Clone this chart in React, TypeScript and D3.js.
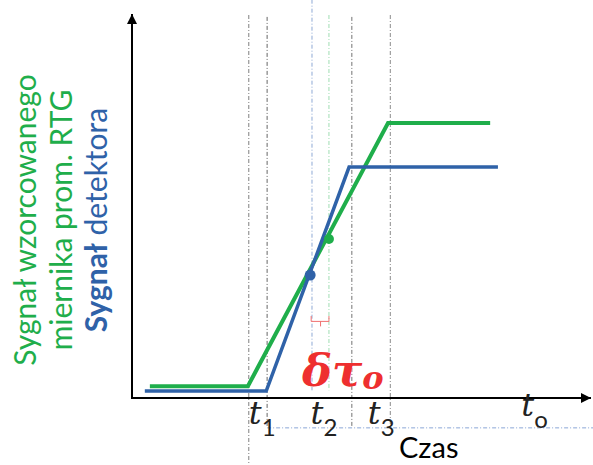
import React from 'react';
import * as d3 from 'd3';

// time in arbitrary units (0..100), signal level (0..100)
const greenT = [3.9, 25.3, 55.9, 78.2];
const greenV = [3.1, 3.1, 71.8, 71.8];
const blueT = [2.8, 29.3, 47.4, 79.9];
const blueV = [1.8, 1.8, 60.3, 60.3];

const blueDot = { t: 38.9, v: 32.1 };
const greenDot = { t: 43.0, v: 41.5 };

// vertical guide lines: time, top level, bottom level, colour
const guideT = [25.5, 29.5, 39.3, 43.0, 48.0, 56.4];
const guideTop = [100, 99.5, 104, 100, 99.5, 100];
const guideBottom = [-17.5, -7.8, 2, 2, -7.8, -7.8];
const guideColor = ['#555', '#333', '#6a8fc8', '#7fd39a', '#444', '#666'];

const tickLabels = [
  { t: 25.5, sub: '1' },
  { t: 39.0, sub: '2' },
  { t: 51.5, sub: '3' },
  { t: 85.0, sub: 'o' },
];

const GREEN = '#1fae4b';
const BLUE = '#2f62a8';
const RED = '#ee2f2f';

export default function App() {
  const width = 593;
  const height = 465;
  const x = d3.scaleLinear().domain([0, 100]).range([132, 590]);
  const y = d3.scaleLinear().domain([0, 100]).range([398, 15]);

  const path = (ts: number[], vs: number[]) =>
    d3.line<number>().x((d) => x(d)).y((_, i) => y(vs[i]))(ts) || '';

  const mathFont = "'DejaVu Serif', serif";

  return (
    <svg width={width} height={height} style={{ position: 'absolute', left: 0, top: 0 }}>
      <defs>
        <marker id="arr" viewBox="0 0 10 10" refX="10" refY="5" markerWidth="5" markerHeight="5" orient="auto">
          <path d="M0,0 L10,5 L0,10 z" fill="#000" />
        </marker>
      </defs>

      {/* guide lines */}
      {guideT.map((t, i) => (
        <line
          key={i}
          x1={x(t)}
          x2={x(t)}
          y1={y(guideTop[i])}
          y2={y(guideBottom[i])}
          stroke={guideColor[i]}
          strokeWidth={1}
          strokeDasharray="4,2,1,2"
          opacity={0.75}
        />
      ))}
      <line
        x1={x(29.5)}
        x2={width}
        y1={y(-7.8)}
        y2={y(-7.8)}
        stroke="#8aa6d6"
        strokeWidth={1}
        strokeDasharray="4,2,1,2"
      />

      {/* axes */}
      <line x1={x(0)} x2={x(0)} y1={y(0)} y2={y(100) - 1} stroke="#000" strokeWidth={2} markerEnd="url(#arr)" />
      <line x1={x(0) - 1} x2={x(100) + 1} y1={y(0)} y2={y(0)} stroke="#000" strokeWidth={2} markerEnd="url(#arr)" />

      {/* signals */}
      <path d={path(greenT, greenV)} fill="none" stroke={GREEN} strokeWidth={4} />
      <path d={path(blueT, blueV)} fill="none" stroke={BLUE} strokeWidth={3.5} />
      <circle cx={x(greenDot.t)} cy={y(greenDot.v)} r={5} fill={GREEN} />
      <circle cx={x(blueDot.t)} cy={y(blueDot.v)} r={5.5} fill={BLUE} />

      {/* delta bracket */}
      <path
        d={`M${x(blueDot.t) + 1},${y(21.4)} V${y(20)} H${x(greenDot.t)} V${y(21.4)} M${(x(blueDot.t) + x(greenDot.t)) / 2 + 1},${y(20)} v5`}
        fill="none"
        stroke="#f07070"
        strokeWidth={1}
      />
      <text x={302} y={386} fill={RED} fontFamily={mathFont} fontStyle="italic" fontWeight="bold" fontSize={45}>
        δτ
        <tspan fontSize={32} dy={3}>o</tspan>
      </text>

      {/* time labels */}
      {tickLabels.map((d, i) => (
        <text
          key={i}
          x={x(d.t)}
          y={i === 3 ? 416 : 424}
          fontFamily={mathFont}
          fontStyle="italic"
          fontSize={32}
          fill="#222"
        >
          t
          <tspan fontStyle="normal" fontFamily="Lato, sans-serif" fontSize={24} dy={12}>
            {d.sub}
          </tspan>
        </text>
      ))}
      <text x={399} y={458} fontFamily="Lato, sans-serif" fontSize={29} fill="#000">
        Czas
      </text>

      {/* y label */}
      <g transform="translate(0,220) rotate(-90)" fontFamily="Lato, sans-serif" fontSize={30} textAnchor="middle">
        <text x={0} y={36} fill={GREEN}>Sygnał wzorcowanego</text>
        <text x={0} y={72} fill={GREEN}>miernika prom. RTG</text>
        <text x={0} y={107} fill={BLUE}>
          <tspan fontWeight="bold">Sygnał</tspan> detektora
        </text>
      </g>
    </svg>
  );
}
